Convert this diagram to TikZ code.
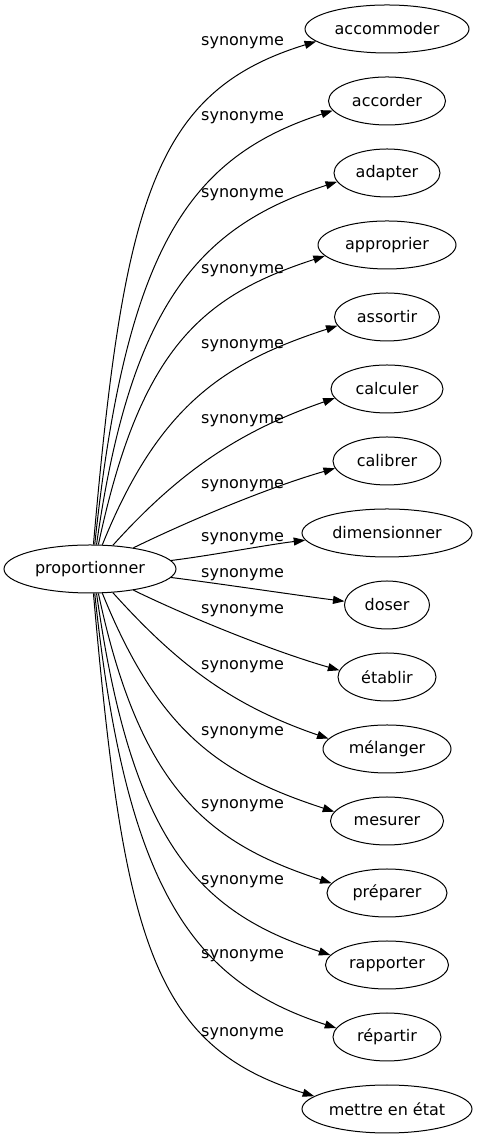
\documentclass[tikz,border=0pt]{standalone}
\usepackage{fontspec}
\setmainfont{DejaVu Sans}
\usetikzlibrary{shapes.geometric,arrows.meta}

\begin{document}
\begin{tikzpicture}[x=1pt,y=1pt,
    word/.style={draw, ellipse, line width=1pt, inner sep=0pt, minimum height=48pt,
                 font=\fontsize{16pt}{19pt}\selectfont},
    rel/.style={anchor=west, inner sep=0pt, font=\fontsize{16pt}{19pt}\selectfont},
    edge/.style={line width=1pt, -{Triangle[length=11.5pt,width=8pt]}}]
    \useasboundingbox (0,0) rectangle (478,1139);
    \node[word, minimum width=172pt] (prop) at (90,570) {proportionner};
    % the sixteen synonyms, one rank, 72pt apart
    \foreach \name/\txt/\w/\ly [count=\i from 0] in {
        acc/accommoder/164/1096, acd/accorder/117/1021, ada/adapter/106/944,
        app/approprier/138/868, ass/assortir/105/793, cal/calculer/112/718,
        cab/calibrer/108/653, dim/dimensionner/170/600, dos/doser/85/564,
        eta/établir/98/528, mel/mélanger/128/472, mes/mesurer/113/406,
        pre/préparer/120/333, rap/rapporter/123/257, rep/répartir/108/183,
        met/mettre en état/170/105}
    {
        \node[word, minimum width=\w pt] (\name) at (387,{1110-72*\i}) {\txt};
        \node[rel] (r\i) at (201,\ly) {synonyme};
    }
    % edges: start anchor / out angle:length / in angle:length / end anchor
    \foreach \name/\sa/\oa/\ol/\ia/\il/\ta in {
        acc/82/85/345/197/170/190, acd/79/84/300/198/150/190,
        ada/75/82/250/198/140/190, app/71/78/200/198/130/190,
        ass/63/68/150/198/120/190, cal/46/48/100/199/100/190,
        cab/26/26/60/196/70/188,   dim/6/7/40/187/40/185,
        dos/354/-7/40/173/40/175,  eta/334/-26/60/164/70/172,
        mel/314/-48/100/161/100/170, mes/297/-68/150/162/120/170,
        pre/289/-78/200/162/130/170, rap/285/-82/250/162/140/170,
        rep/281/-84/300/162/150/170, met/278/-85/345/163/170/170}
        \draw[edge] (prop.\sa) .. controls +(\oa:\ol) and +(\ia:\il) .. (\name.\ta);
\end{tikzpicture}
\end{document}
